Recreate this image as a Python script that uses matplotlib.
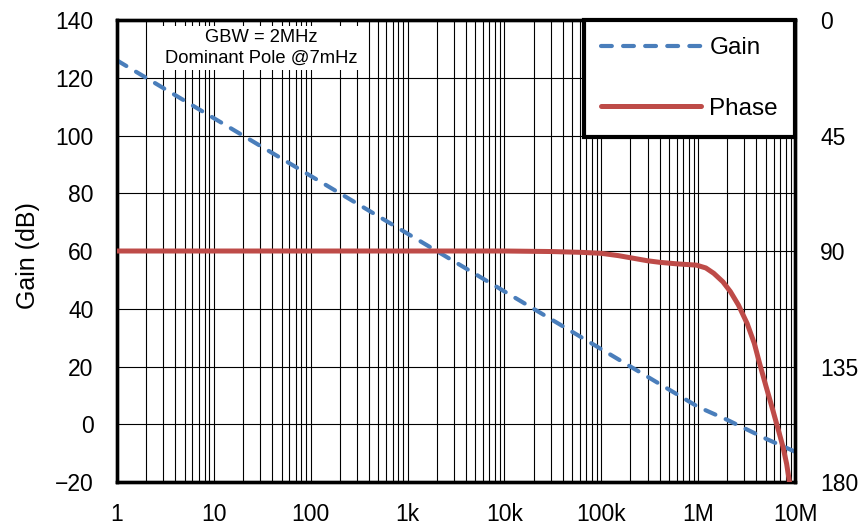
import matplotlib
matplotlib.use("Agg")
import matplotlib.pyplot as plt
from matplotlib.ticker import FixedLocator, LogLocator, NullFormatter

plt.rcParams['font.family'] = ['Liberation Sans', 'DejaVu Sans']

# data
gain_freq = [1, 10, 100, 1e3, 1e4, 1e5, 1e6, 2e6, 5e6, 1e7]
gain_db = [126, 106, 86, 66, 46, 26, 6, 1.5, -5, -9.5]

phase_freq = [1, 1e4, 3e4, 6e4, 1e5, 1.5e5, 2.2e5, 3e5, 4e5, 6e5, 9.6e5,
              1.2e6, 1.45e6, 1.8e6, 2.15e6, 2.6e6, 3.2e6, 3.8e6, 4.3e6,
              5e6, 5.9e6, 6.7e6, 7.5e6, 8.2e6, 8.8e6]
phase_deg = [90, 90, 90.2, 90.5, 90.9, 91.8, 92.9, 93.8, 94.4, 95, 95.5,
             96.6, 98.7, 102, 105.8, 111, 118.2, 126, 133.7,
             142.5, 152, 159.5, 166.2, 173, 180.5]

x_ticks = [1, 10, 100, 1e3, 1e4, 1e5, 1e6, 1e7]
x_labels = ["1", "10", "100", "1k", "10k", "100k", "1M", "10M"]
gain_ticks = [-20, 0, 20, 40, 60, 80, 100, 120, 140]
phase_ticks = [0, 45, 90, 135, 180]

blue = "#4a7ebb"
red = "#be4b48"

fig = plt.figure(figsize=(8.65, 5.27), dpi=100)
ax = fig.add_axes([0.1353, 0.0854, 0.7838, 0.8766])
ax2 = ax.twinx()

gain_line, = ax.plot(gain_freq, gain_db, color=blue, lw=3, ls=(0, (2.6, 2.7)),
                     dash_capstyle='round', label="Gain", zorder=3)
phase_line, = ax2.plot(phase_freq, phase_deg, color=red, lw=3.6,
                       solid_capstyle='round', solid_joinstyle='round',
                       label="Phase", zorder=3)

ax.set_xscale('log')
ax.set_xlim(1, 1e7)
ax.set_ylim(-20, 140)
ax2.set_ylim(180, 0)

ax.xaxis.set_major_locator(FixedLocator(x_ticks))
ax.set_xticklabels(x_labels)
ax.xaxis.set_minor_locator(LogLocator(base=10, subs=range(2, 10), numticks=100))
ax.xaxis.set_minor_formatter(NullFormatter())
ax.set_yticks(gain_ticks)
ax2.set_yticks(phase_ticks)

ax.grid(True, which='both', axis='x', color='black', lw=0.8)
ax.grid(True, which='major', axis='y', color='black', lw=0.8)

ax.tick_params(axis='x', which='both', length=0, pad=15, labelsize=16.5)
ax.tick_params(axis='y', length=0, pad=17, labelsize=16.5)
ax2.tick_params(axis='y', length=0, pad=18, labelsize=16.5)

for a in (ax, ax2):
    for s in a.spines.values():
        s.set_linewidth(2.4)
        s.set_color('black')

ax.set_ylabel("Gain (dB)", fontsize=18)
ax.yaxis.set_label_coords(-0.113, 0.49)

ax.text(30.6, 130.3, "GBW = 2MHz\nDominant Pole @7mHz", ha='center', va='center',
        fontsize=13.2, linespacing=1.3, zorder=4,
        bbox=dict(facecolor='white', edgecolor='none', pad=2))

leg = ax2.legend(handles=[gain_line, phase_line], loc='upper right',
                 bbox_to_anchor=(1, 1), borderaxespad=0, fancybox=False,
                 framealpha=1, edgecolor='black', fontsize=17.5,
                 handlelength=4.1, handletextpad=0.35, borderpad=0.7,
                 labelspacing=1.6)
leg.get_frame().set_linewidth(3)

fig.savefig("out.png", dpi=100)
